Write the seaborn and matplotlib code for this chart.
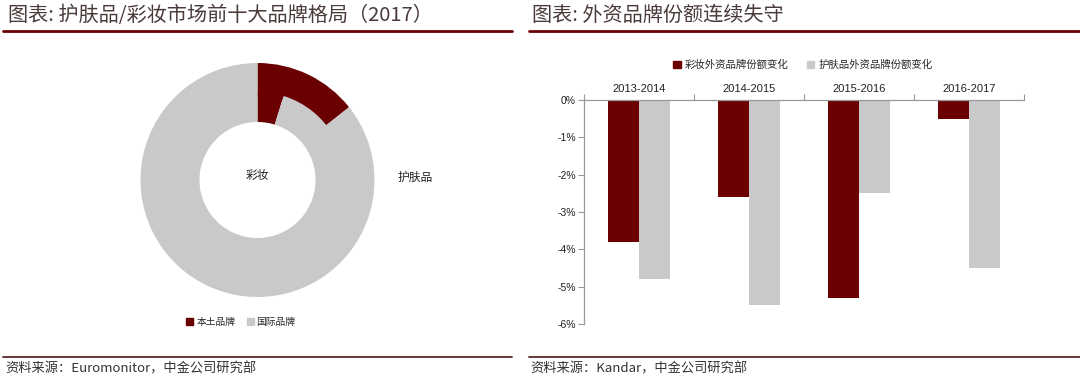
import matplotlib
matplotlib.use("Agg")
import matplotlib.pyplot as plt
from matplotlib.lines import Line2D
from matplotlib.patches import Patch
import seaborn as sns
import pandas as pd

# ---------------- data ----------------
ring_labels = ["本土品牌", "国际品牌"]
skincare_share = [14.3, 85.7]      # outer ring (护肤品)
makeup_share = [4.8, 95.2]         # inner ring (彩妆)

periods = ["2013-2014", "2014-2015", "2015-2016", "2016-2017"]
series_names = ["彩妆外资品牌份额变化", "护肤品外资品牌份额变化"]
makeup_change = [-3.8, -2.6, -5.3, -0.5]
skincare_change = [-4.8, -5.5, -2.5, -4.5]
y_ticks = [0, -1, -2, -3, -4, -5, -6]

title_left = "图表: 护肤品/彩妆市场前十大品牌格局（2017）"
title_right = "图表: 外资品牌份额连续失守"
source_left = "资料来源：Euromonitor，中金公司研究部"
source_right = "资料来源：Kandar，中金公司研究部"

# ---------------- style ----------------
sns.set_style("white")
plt.rcParams['font.family'] = ['Noto Sans CJK SC', 'DejaVu Sans']
MAROON = "#6B0000"
GRAY = "#C9C9CB"
TITLE_C = "#4a3a3a"
W, H = 1080, 382

fig = plt.figure(figsize=(10.8, 3.82), dpi=100)

def fx(px):
    return px / W

def fy(py):
    return 1 - py / H

# header / footer lines
for x0, x1 in [(3, 512), (529, 1080)]:
    fig.add_artist(Line2D([fx(x0), fx(x1)], [fy(31), fy(31)], color=MAROON, lw=2.0))
    fig.add_artist(Line2D([fx(x0), fx(x1)], [fy(357), fy(357)], color="#5a2a2a", lw=1.3))

fig.text(fx(8), fy(15), title_left, fontsize=14.5, color=TITLE_C, va="center", ha="left")
fig.text(fx(532), fy(15), title_right, fontsize=14.5, color=TITLE_C, va="center", ha="left")
fig.text(fx(5), fy(369), source_left, fontsize=9.5, color="#333333", va="center", ha="left")
fig.text(fx(530), fy(369), source_right, fontsize=9.5, color="#333333", va="center", ha="left")

# ---------------- donut ----------------
cx, cy, R = 257.5, 180, 117
axp = fig.add_axes([fx(cx - R), fy(cy + R), (2 * R) / W, (2 * R) / H])
r_mid = 88 / R
r_in = 58 / R
axp.pie(skincare_share, radius=1.0, colors=[MAROON, GRAY], startangle=90,
        counterclock=False, wedgeprops=dict(width=1.0 - r_mid + 0.03, linewidth=0))
axp.pie(makeup_share, radius=r_mid, colors=[MAROON, GRAY], startangle=90,
        counterclock=False, wedgeprops=dict(width=r_mid - r_in, linewidth=0))
axp.set_xlim(-1, 1)
axp.set_ylim(-1, 1)
axp.set_aspect("equal")
axp.axis("off")
axp.text(0, 0.04, "彩妆", ha="center", va="center", fontsize=8.5, color="#222222")
axp.text(1.35, 0.02, "护肤品", ha="center", va="center", fontsize=8.5, color="#222222", clip_on=False)

fig.legend(handles=[Patch(color=MAROON), Patch(color=GRAY)], labels=ring_labels,
           loc="center", bbox_to_anchor=(fx(241), fy(322)), ncol=2, frameon=False,
           fontsize=7, handlelength=0.7, handleheight=0.7, handletextpad=0.3,
           columnspacing=1.2)

# ---------------- bar chart ----------------
df = pd.DataFrame({
    "period": periods * 2,
    "series": [series_names[0]] * len(periods) + [series_names[1]] * len(periods),
    "value": makeup_change + skincare_change,
})

axb = fig.add_axes([fx(584), fy(324), 440 / W, 224 / H])
sns.barplot(data=df, x="period", y="value", hue="series", order=periods,
            hue_order=series_names, palette=[MAROON, GRAY], width=0.57,
            saturation=1, linewidth=0, edgecolor="none", ax=axb, legend=False)
axb.set_xlim(-0.5, len(periods) - 0.5)
axb.set_ylim(min(y_ticks), max(y_ticks))
axb.set_xlabel("")
axb.set_ylabel("")
axb.xaxis.tick_top()
axb.set_xticks([i - 0.5 for i in range(len(periods) + 1)])
axb.set_xticklabels([])
axb.tick_params(axis="x", direction="out", length=4, width=0.8, color="#999999", top=True, bottom=False)
axb.set_yticks(y_ticks)
axb.set_yticklabels([f"{t}%" for t in y_ticks], fontsize=7.5, color="#222222",
                    family=["Liberation Sans", "DejaVu Sans"])
axb.tick_params(axis="y", direction="out", length=4, width=0.8, color="#999999", left=True, pad=2)
for s in ["right", "bottom"]:
    axb.spines[s].set_visible(False)
for s in ["top", "left"]:
    axb.spines[s].set_color("#999999")
    axb.spines[s].set_linewidth(0.9)
for i, p in enumerate(periods):
    axb.text(i, 0.3, p, ha="center", va="center", fontsize=8, color="#222222",
             family=["Liberation Sans", "DejaVu Sans"], clip_on=False)

fig.legend(handles=[Patch(color=MAROON), Patch(color=GRAY)], labels=series_names,
           loc="center", bbox_to_anchor=(fx(803), fy(65)), ncol=2, frameon=False,
           fontsize=7.5, handlelength=0.7, handleheight=0.7, handletextpad=0.4,
           columnspacing=1.8)

fig.savefig("out.png", dpi=100, facecolor="white")
